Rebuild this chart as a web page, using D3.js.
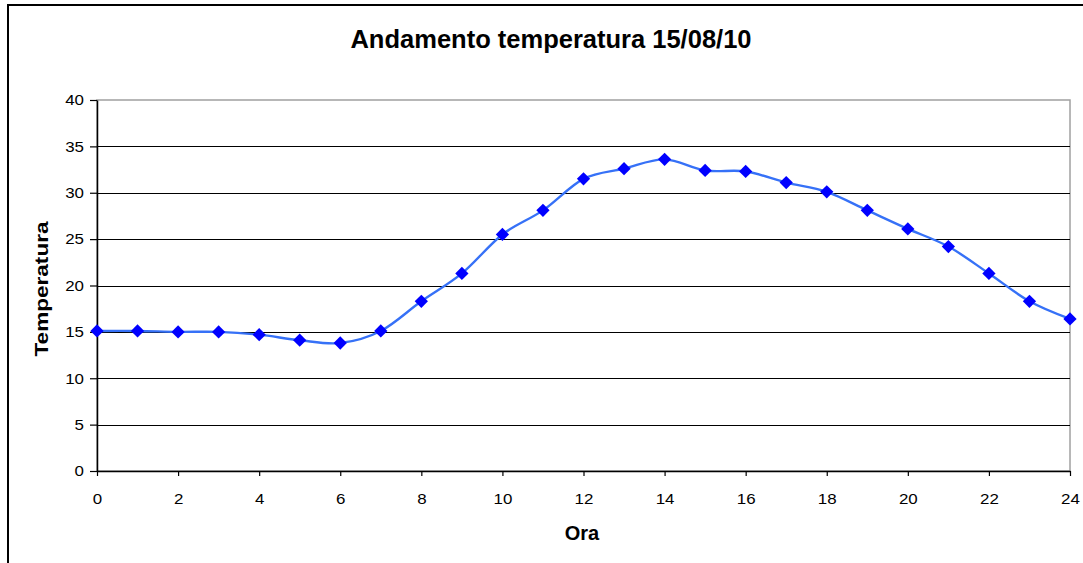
<!DOCTYPE html>
<html>
<head>
<meta charset="utf-8">
<script src="https://cdn.jsdelivr.net/npm/d3@7"></script>
<style>
  body { margin: 0; background: #fff; }
  svg { font-family: Arial, "Liberation Sans", sans-serif; display: block; }
</style>
</head>
<body>
<div id="chart-area"></div>
<script>
const hours = [0,1,2,3,4,5,6,7,8,9,10,11,12,13,14,15,16,17,18,19,20,21,22,23,24];
const temps = [15.1,15.1,15.0,15.0,14.7,14.1,13.8,15.1,18.3,21.3,25.5,28.1,31.5,32.6,33.6,32.4,32.3,31.1,30.1,28.1,26.1,24.2,21.3,18.3,16.4];
const xTicks = [0,2,4,6,8,10,12,14,16,18,20,22,24];
const yTicks = [0,5,10,15,20,25,30,35,40];

const w = 1083;
const h = 563;
const plotLeft = 97, plotRight = 1070, plotTop = 100, plotBottom = 471;

const svg = d3.select("#chart-area")
    .append("svg")
    .attr("width", w)
    .attr("height", h);

// outer chart frame (runs off the picture on right and bottom)
svg.append("rect")
    .attr("x", 8)
    .attr("y", 5)
    .attr("width", w + 20)
    .attr("height", h + 20)
    .attr("fill", "none")
    .attr("stroke", "#000")
    .attr("stroke-width", 2);

const xScale = d3.scaleLinear().domain([0, 24]).range([plotLeft, plotRight]);
const yScale = d3.scaleLinear().domain([0, 40]).range([plotBottom, plotTop]);

// plot area border (grey)
svg.append("rect")
    .attr("x", plotLeft)
    .attr("y", plotTop)
    .attr("width", plotRight - plotLeft)
    .attr("height", plotBottom - plotTop)
    .attr("fill", "none")
    .attr("stroke", "#a0a0a0")
    .attr("stroke-width", 1.5);

// gridlines
svg.append("g")
    .selectAll("line")
    .data(yTicks.filter(d => d > 0 && d < 40))
    .enter()
    .append("line")
    .attr("x1", plotLeft)
    .attr("x2", plotRight)
    .attr("y1", d => Math.round(yScale(d)) + 0.5)
    .attr("y2", d => Math.round(yScale(d)) + 0.5)
    .attr("stroke", "#000")
    .attr("stroke-width", 1);

const xAxis = d3.axisBottom(xScale).tickValues(xTicks).tickSize(5).tickSizeOuter(0).tickPadding(17);
const yAxis = d3.axisLeft(yScale).tickValues(yTicks).tickSize(7).tickSizeOuter(0).tickPadding(6);

const gx = svg.append("g")
    .attr("id", "x-axis")
    .attr("transform", "translate(0," + plotBottom + ")")
    .call(xAxis);

const gy = svg.append("g")
    .attr("id", "y-axis")
    .attr("transform", "translate(" + plotLeft + ",0)")
    .call(yAxis);

[gx, gy].forEach(g => {
    g.select(".domain").attr("stroke", "#000").attr("stroke-width", 1.5);
    g.selectAll(".tick line").attr("stroke", "#000").attr("stroke-width", 1.2);
    g.selectAll("text")
        .attr("fill", "#000")
        .style("font-size", "15px")
        .attr("textLength", function() { return this.textContent.length * 9.4; })
        .attr("lengthAdjust", "spacingAndGlyphs");
});

// data line
const line = d3.line()
    .x((d, i) => xScale(hours[i]))
    .y(d => yScale(d))
    .curve(d3.curveCardinal.tension(0));

svg.append("path")
    .datum(temps)
    .attr("d", line)
    .attr("fill", "none")
    .attr("stroke", "#3671f7")
    .attr("stroke-width", 2.4);

const diamond = d3.symbol().type(d3.symbolSquare).size(88);

svg.selectAll(".dot")
    .data(temps)
    .enter()
    .append("path")
    .attr("class", "dot")
    .attr("d", diamond)
    .attr("transform", (d, i) => "translate(" + xScale(hours[i]) + "," + yScale(d) + ") rotate(45)")
    .attr("fill", "#0000ff");

// titles
svg.append("text")
    .attr("x", 551)
    .attr("y", 48)
    .attr("text-anchor", "middle")
    .style("font-size", "25.5px")
    .style("font-weight", "bold")
    .text("Andamento temperatura 15/08/10");

svg.append("text")
    .attr("x", 582)
    .attr("y", 540)
    .attr("text-anchor", "middle")
    .style("font-size", "20px")
    .style("font-weight", "bold")
    .text("Ora");

svg.append("text")
    .attr("transform", "translate(48,289) rotate(-90)")
    .attr("text-anchor", "middle")
    .attr("textLength", 135)
    .attr("lengthAdjust", "spacingAndGlyphs")
    .style("font-size", "19px")
    .style("font-weight", "bold")
    .text("Temperatura");
</script>
</body>
</html>
